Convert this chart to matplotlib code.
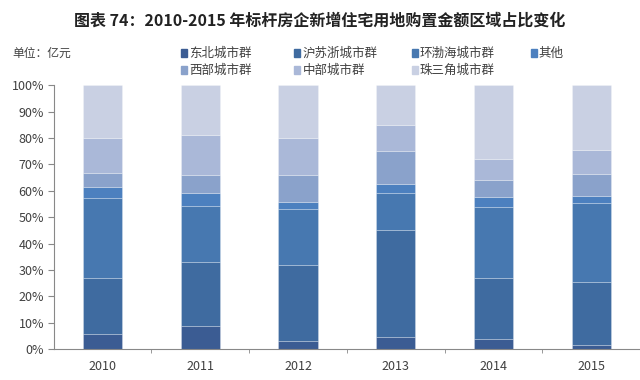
import numpy as np
import matplotlib.pyplot as plt
from matplotlib.patches import Rectangle

plt.rcParams['font.family'] = ['Noto Sans CJK SC', 'DejaVu Sans']

years = ['2010', '2011', '2012', '2013', '2014', '2015']
regions = ['东北城市群', '沪苏浙城市群', '环渤海城市群', '其他',
           '西部城市群', '中部城市群', '珠三角城市群']
# shares in % per region, per year
dongbei = [5.7, 8.8, 3.3, 4.8, 3.7, 1.6]
husuzhe = [21.2, 24.4, 28.5, 40.5, 23.2, 24.0]
huanbohai = [30.3, 21.2, 21.4, 14.0, 27.1, 29.6]
qita = [4.4, 4.7, 2.4, 3.3, 3.7, 2.9]
xibu = [5.2, 6.9, 10.4, 12.4, 6.3, 8.3]
zhongbu = [13.3, 15.2, 13.8, 10.0, 8.1, 9.2]
zhusanjiao = [19.9, 18.8, 20.2, 15.0, 27.9, 24.4]
colors = ['#3B5C93', '#3F6BA0', '#4778B0', '#4C80BF',
          '#8AA2CB', '#AAB8D8', '#C9D0E3']

series = [dongbei, husuzhe, huanbohai, qita, xibu, zhongbu, zhusanjiao]

fig = plt.figure(figsize=(6.4, 3.8), dpi=100)
ax = fig.add_axes([0.084, 0.081, 0.916, 0.695])

x = np.arange(len(years))
bottom = np.zeros(len(years))
for vals, c, name in zip(series, colors, regions):
    v = np.array(vals)
    ax.bar(x, v, 0.4, bottom=bottom, color=c, edgecolor=(1, 1, 1, 0.35),
           linewidth=0.5, label=name)
    bottom += v

ax.set_xlim(-0.5, 5.5)
ax.set_ylim(0, 100)
ax.set_yticks(np.arange(0, 101, 10))
ax.set_yticklabels(['%d%%' % t for t in range(0, 101, 10)])
ax.set_xticks(x)
ax.set_xticklabels(years)
ax.set_xticks(np.arange(0.5, 5.5, 1), minor=True)
ax.tick_params(axis='x', which='major', length=0, pad=8, labelsize=9,
               labelcolor='#404040')
ax.tick_params(axis='x', which='minor', length=3, color='#888888')
ax.tick_params(axis='y', length=4, color='#888888', labelsize=9,
               labelcolor='#404040', pad=3)
for s in ['top', 'right']:
    ax.spines[s].set_visible(False)
for s in ['left', 'bottom']:
    ax.spines[s].set_color('#888888')
    ax.spines[s].set_linewidth(0.8)

fig.text(0.5, 0.945, '图表 74：2010-2015 年标杆房企新增住宅用地购置金额区域占比变化',
         ha='center', va='center', fontsize=11.5, fontweight='bold',
         color='#222222')
fig.text(0.019, 0.86, '单位：亿元', ha='left', va='center', fontsize=8.5,
         color='#404040')

# legend laid out in two rows, four columns
leg_x = [0.283, 0.46, 0.643, 0.829]
leg_y = [0.86, 0.815]
for i, (name, c) in enumerate(zip(regions, colors)):
    row, col = (0, i) if i < 4 else (1, i - 4)
    lx, ly = leg_x[col], leg_y[row]
    fig.patches.append(Rectangle((lx, ly - 0.011), 0.0095, 0.022,
                                 transform=fig.transFigure, color=c))
    fig.text(lx + 0.013, ly, name, ha='left', va='center', fontsize=9,
             color='#404040')

fig.savefig('out.png', dpi=100)
